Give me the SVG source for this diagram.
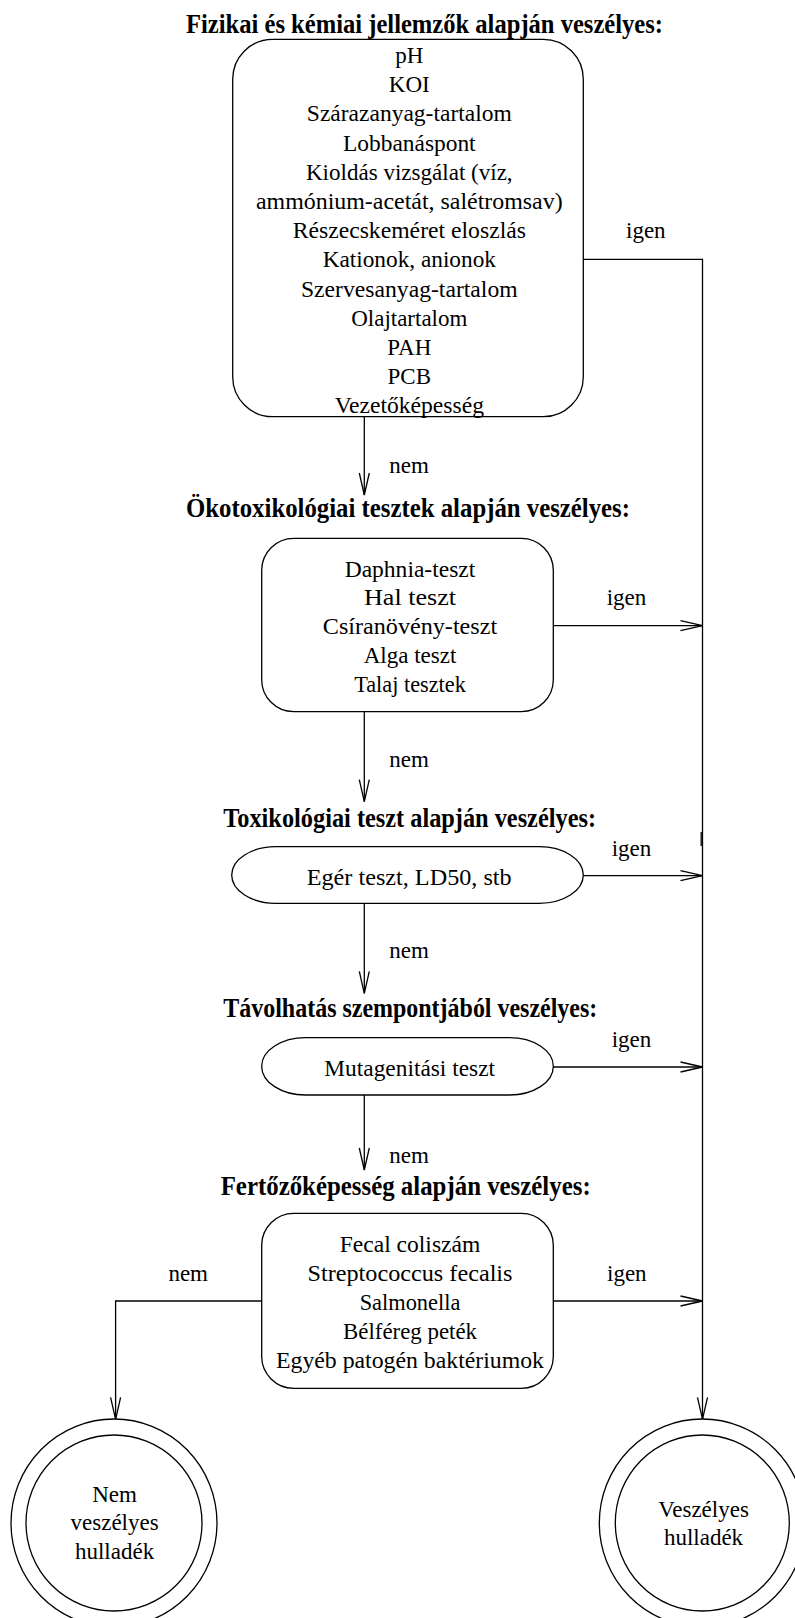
<svg xmlns="http://www.w3.org/2000/svg" width="795" height="1618" viewBox="0 0 795 1618">
<style>
.t{font-family:"Liberation Serif","Times New Roman",serif;font-size:23px;fill:#000;text-anchor:middle}
.h{font-family:"Liberation Serif","Times New Roman",serif;font-size:26.5px;font-weight:bold;fill:#000}
.l{font-family:"Liberation Serif","Times New Roman",serif;font-size:23px;fill:#000}
.s{fill:#fff;stroke:#000;stroke-width:1.3}
.c{fill:none;stroke:#000;stroke-width:1.3}
</style>
<defs>
<marker id="a" markerUnits="userSpaceOnUse" markerWidth="26" markerHeight="14" refX="23" refY="6" orient="auto">
<path d="M1,1 L23,6 L1,11" fill="none" stroke="#000" stroke-width="1.3"/>
</marker>
</defs>
<rect width="795" height="1618" fill="#fff"/>
<g id="connectors">
<path class="c" d="M364.3,416.7 V495" marker-end="url(#a)"/>
<path class="c" d="M364.3,711.7 V801.7" marker-end="url(#a)"/>
<path class="c" d="M364.3,903.3 V993.3" marker-end="url(#a)"/>
<path class="c" d="M364.3,1095 V1170" marker-end="url(#a)"/>
<path class="c" d="M583.3,259.3 H702.5 V1419.3" marker-end="url(#a)"/>
<path class="c" d="M701.2,832 V846"/>
<path class="c" d="M553.3,625.7 H702.5" marker-end="url(#a)"/>
<path class="c" d="M583.3,875.7 H702.5" marker-end="url(#a)"/>
<path class="c" d="M553.3,1067 H702.5" marker-end="url(#a)"/>
<path class="c" d="M553.3,1301 H702.5" marker-end="url(#a)"/>
<path class="c" d="M261.7,1301 H115.6 V1419.3" marker-end="url(#a)"/>
<text class="l" x="626" y="238">igen</text>
<text class="l" x="389.3" y="473">nem</text>
<text class="l" x="606.7" y="605">igen</text>
<text class="l" x="389.3" y="766.7">nem</text>
<text class="l" x="611.7" y="855.5">igen</text>
<text class="l" x="389.3" y="958.3">nem</text>
<text class="l" x="611.7" y="1046.7">igen</text>
<text class="l" x="389.3" y="1163.3">nem</text>
<text class="l" x="607" y="1281">igen</text>
<text class="l" x="168.4" y="1281.3">nem</text>
</g>
<g id="n1">
<text class="h" x="186" y="33" textLength="477" lengthAdjust="spacingAndGlyphs">Fizikai és kémiai jellemzők alapján veszélyes:</text>
<rect class="s" x="232.7" y="39.3" width="350.6" height="377.4" rx="40"/>
<text class="t" x="409.3" y="63.3">pH</text>
<text class="t" x="409.3" y="92.2">KOI</text>
<text class="t" x="409.3" y="121.4" textLength="205" lengthAdjust="spacingAndGlyphs">Szárazanyag-tartalom</text>
<text class="t" x="409.3" y="150.6" textLength="132.7" lengthAdjust="spacingAndGlyphs">Lobbanáspont</text>
<text class="t" x="409.3" y="179.8" textLength="206.7" lengthAdjust="spacingAndGlyphs">Kioldás vizsgálat (víz,</text>
<text class="t" x="409.3" y="209" textLength="306.7" lengthAdjust="spacingAndGlyphs">ammónium-acetát, salétromsav)</text>
<text class="t" x="409.3" y="238.2" textLength="233.3" lengthAdjust="spacingAndGlyphs">Részecskeméret eloszlás</text>
<text class="t" x="409.3" y="267.4" textLength="173.3" lengthAdjust="spacingAndGlyphs">Kationok, anionok</text>
<text class="t" x="409.3" y="296.6" textLength="216.7" lengthAdjust="spacingAndGlyphs">Szervesanyag-tartalom</text>
<text class="t" x="409.3" y="325.8" textLength="116" lengthAdjust="spacingAndGlyphs">Olajtartalom</text>
<text class="t" x="409.3" y="355">PAH</text>
<text class="t" x="409.3" y="384.2">PCB</text>
<text class="t" x="409.3" y="413.4" textLength="149.3" lengthAdjust="spacingAndGlyphs">Vezetőképesség</text>
</g>
<g id="n2">
<text class="h" x="186" y="516.7" textLength="444" lengthAdjust="spacingAndGlyphs">Ökotoxikológiai tesztek alapján veszélyes:</text>
<rect class="s" x="261.7" y="538.3" width="291.6" height="173.4" rx="32"/>
<text class="t" x="410" y="577.3" textLength="130.7" lengthAdjust="spacingAndGlyphs">Daphnia-teszt</text>
<text class="t" x="410" y="605.2" textLength="92" lengthAdjust="spacingAndGlyphs">Hal teszt</text>
<text class="t" x="410" y="634" textLength="174.3" lengthAdjust="spacingAndGlyphs">Csíranövény-teszt</text>
<text class="t" x="410" y="663.3" textLength="92.7" lengthAdjust="spacingAndGlyphs">Alga teszt</text>
<text class="t" x="410" y="692.3" textLength="111.7" lengthAdjust="spacingAndGlyphs">Talaj tesztek</text>
</g>
<g id="n3">
<text class="h" x="223.3" y="826.7" textLength="372.7" lengthAdjust="spacingAndGlyphs">Toxikológiai teszt alapján veszélyes:</text>
<rect class="s" x="231.7" y="846.7" width="351.6" height="56.6" rx="44" ry="28.3"/>
<text class="t" x="409.2" y="885" textLength="205" lengthAdjust="spacingAndGlyphs">Egér teszt, LD50, stb</text>
</g>
<g id="n4">
<text class="h" x="223.3" y="1016.7" textLength="374" lengthAdjust="spacingAndGlyphs">Távolhatás szempontjából veszélyes:</text>
<rect class="s" x="261.7" y="1037.7" width="291.6" height="57.3" rx="44" ry="28.6"/>
<text class="t" x="409.7" y="1076" textLength="170.7" lengthAdjust="spacingAndGlyphs">Mutagenitási teszt</text>
</g>
<g id="n5">
<text class="h" x="220.7" y="1194.5" textLength="370" lengthAdjust="spacingAndGlyphs">Fertőzőképesség alapján veszélyes:</text>
<rect class="s" x="261.7" y="1213.3" width="291.6" height="175" rx="32"/>
<text class="t" x="410" y="1251.7" textLength="140.7" lengthAdjust="spacingAndGlyphs">Fecal coliszám</text>
<text class="t" x="410" y="1281" textLength="205" lengthAdjust="spacingAndGlyphs">Streptococcus fecalis</text>
<text class="t" x="410" y="1310" textLength="100.7" lengthAdjust="spacingAndGlyphs">Salmonella</text>
<text class="t" x="410" y="1339.3" textLength="134" lengthAdjust="spacingAndGlyphs">Bélféreg peték</text>
<text class="t" x="410" y="1368.3" textLength="268" lengthAdjust="spacingAndGlyphs">Egyéb patogén baktériumok</text>
</g>
<g id="end-nem">
<ellipse class="s" cx="114" cy="1523" rx="103" ry="104"/>
<ellipse class="s" cx="114" cy="1523" rx="88" ry="88"/>
<text class="t" x="114.6" y="1501.7">Nem</text>
<text class="t" x="114.6" y="1530">veszélyes</text>
<text class="t" x="114.6" y="1559.3">hulladék</text>
</g>
<g id="end-igen">
<ellipse class="s" cx="702.3" cy="1523" rx="103" ry="104"/>
<ellipse class="s" cx="702.3" cy="1523" rx="87" ry="88"/>
<text class="t" x="703.5" y="1516.7">Veszélyes</text>
<text class="t" x="703.5" y="1545">hulladék</text>
</g>
</svg>
